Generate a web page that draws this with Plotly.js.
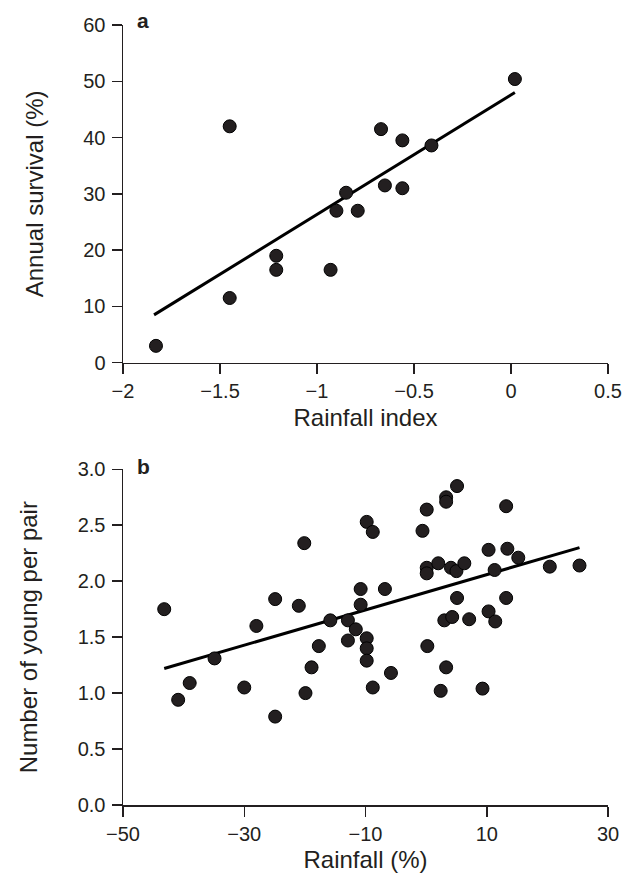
<!DOCTYPE html>
<html>
<head>
<meta charset="utf-8">
<script src="https://cdn.plot.ly/plotly-3.0.1.min.js"></script>
<style>html,body{margin:0;padding:0;background:#fff;}#chart{width:623px;height:873px;}</style>
</head>
<body>
<div id="chart"></div>
<script>
// Panel a: survival vs rainfall index
const rainIndex = [-1.83, -1.45, -1.45, -1.21, -1.21, -0.93, -0.90, -0.85, -0.79, -0.67, -0.65, -0.56, -0.56, -0.41, 0.02];
const survival  = [3.0, 42.0, 11.5, 19.0, 16.5, 16.5, 27.0, 30.2, 27.0, 41.5, 31.5, 39.5, 31.0, 38.6, 50.4];
const fitA_x = [-1.84, 0.02];
const fitA_y = [8.5, 48.0];

// Panel b: young per pair vs rainfall (%)
const rainPct = [-43.2, -40.9, -39.0, -34.9, -30.0, -28.0, -24.9, -24.9, -21.0, -20.1,
                 -19.9, -18.9, -17.7, -15.8, -12.9, -12.9, -11.6, -10.8, -10.8, -9.8,
                 -9.8, -9.8, -9.8, -8.8, -8.8, -6.8, -5.8, -0.6, 0.1, 0.1,
                 0.1, 0.2, 2.0, 2.4, 3.0, 3.3, 3.3, 3.3, 4.1, 4.3,
                 5.0, 5.1, 5.1, 6.3, 7.1, 9.3, 10.3, 10.3, 11.3, 11.4,
                 13.2, 13.2, 13.4, 15.2, 20.4, 25.3];
const youngPerPair = [1.75, 0.94, 1.09, 1.31, 1.05, 1.60, 1.84, 0.79, 1.78, 2.34,
                      1.00, 1.23, 1.42, 1.65, 1.65, 1.47, 1.57, 1.93, 1.79, 2.53,
                      1.49, 1.40, 1.29, 2.44, 1.05, 1.93, 1.18, 2.45, 2.64, 2.12,
                      2.07, 1.42, 2.16, 1.02, 1.65, 2.75, 2.71, 1.23, 2.12, 1.68,
                      2.09, 2.85, 1.85, 2.16, 1.66, 1.04, 2.28, 1.73, 2.10, 1.64,
                      2.67, 1.85, 2.29, 2.21, 2.13, 2.14];
const fitB_x = [-43.2, 25.3];
const fitB_y = [1.22, 2.30];

const xTicksA = [-2, -1.5, -1, -0.5, 0, 0.5];
const yTicksA = [0, 10, 20, 30, 40, 50, 60];
const xTicksB = [-50, -30, -10, 10, 30];
const yTicksB = [0, 0.5, 1.0, 1.5, 2.0, 2.5, 3.0];

const ink = '#231f20';
const fontFam = 'Liberation Sans, Arial, Helvetica, sans-serif';
const markerStyle = {size: 13, color: ink, line: {color: '#000', width: 1}};

const traces = [
  {x: fitA_x, y: fitA_y, mode: 'lines', line: {color: '#000', width: 3}, xaxis: 'x', yaxis: 'y', hoverinfo: 'skip'},
  {x: rainIndex, y: survival, mode: 'markers', marker: markerStyle, xaxis: 'x', yaxis: 'y'},
  {x: fitB_x, y: fitB_y, mode: 'lines', line: {color: '#000', width: 3}, xaxis: 'x2', yaxis: 'y2', hoverinfo: 'skip'},
  {x: rainPct, y: youngPerPair, mode: 'markers', marker: markerStyle, xaxis: 'x2', yaxis: 'y2'}
];

const axCommon = {
  showgrid: false, zeroline: false, showline: true, linecolor: ink, linewidth: 1.5,
  ticks: 'outside', ticklen: 10, tickwidth: 1.5, tickcolor: ink,
  tickfont: {family: fontFam, size: 20, color: ink},
  automargin: false, fixedrange: true
};

const layout = {
  width: 623, height: 873,
  margin: {l: 123, r: 15, t: 25, b: 68},
  paper_bgcolor: '#fff', plot_bgcolor: '#fff',
  showlegend: false,
  font: {family: fontFam, color: ink},
  xaxis: Object.assign({}, axCommon, {
    domain: [0, 1], anchor: 'y', range: [-2, 0.5],
    tickmode: 'array', tickvals: xTicksA, ticktext: xTicksA.map(v => String(v).replace('-', '\u2212')),
    title: {text: 'Rainfall index', font: {family: fontFam, size: 24, color: ink}, standoff: 8}
  }),
  yaxis: Object.assign({}, axCommon, {
    domain: [0.567, 1], anchor: 'x', range: [0, 60], ticklabelstandoff: 2,
    tickmode: 'array', tickvals: yTicksA, ticktext: yTicksA.map(String),
    title: {text: 'Annual survival (%)', font: {family: fontFam, size: 24, color: ink}, standoff: 33}
  }),
  xaxis2: Object.assign({}, axCommon, {
    domain: [0, 1], anchor: 'y2', range: [-50, 30],
    tickmode: 'array', tickvals: xTicksB, ticktext: xTicksB.map(v => String(v).replace('-', '\u2212')),
    title: {text: 'Rainfall (%)', font: {family: fontFam, size: 24, color: ink}, standoff: 10}
  }),
  yaxis2: Object.assign({}, axCommon, {
    domain: [0, 0.4304], anchor: 'x2', range: [0, 3], ticklabelstandoff: 2,
    tickmode: 'array', tickvals: yTicksB, ticktext: yTicksB.map(v => v.toFixed(1)),
    title: {text: 'Number of young per pair', font: {family: fontFam, size: 24, color: ink}, standoff: 33}
  }),
  annotations: [
    {text: '<b>a</b>', xref: 'paper', yref: 'paper', x: 0.0247, y: 1.0064, xanchor: 'left', yanchor: 'middle', showarrow: false, font: {family: fontFam, size: 21, color: ink}},
    {text: '<b>b</b>', xref: 'paper', yref: 'paper', x: 0.0247, y: 0.4346, xanchor: 'left', yanchor: 'middle', showarrow: false, font: {family: fontFam, size: 21, color: ink}}
  ]
};

Plotly.newPlot('chart', traces, layout, {displayModeBar: false, staticPlot: true});
</script>
</body>
</html>
